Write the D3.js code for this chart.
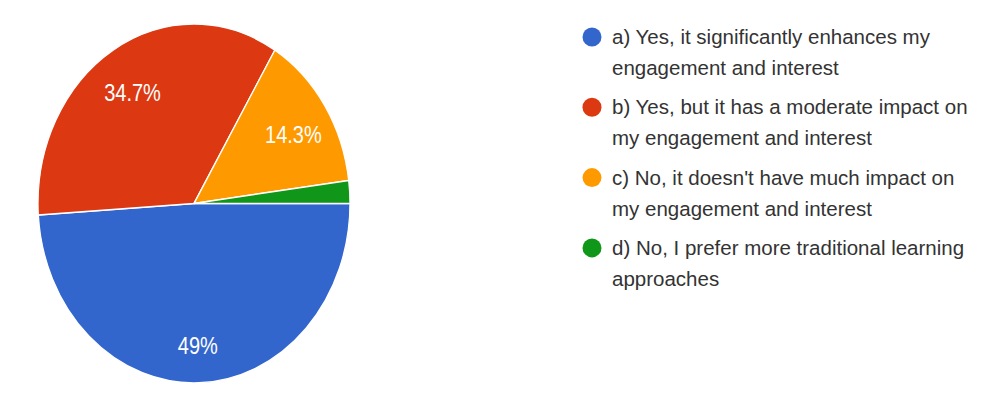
<!DOCTYPE html>
<html>
<head>
<meta charset="utf-8">
<script src="https://cdn.jsdelivr.net/npm/d3@7"></script>
<style>
  html, body { margin: 0; padding: 0; background: #fff; }
  svg { display: block; }
</style>
</head>
<body>
<svg id="chart" width="995" height="394"></svg>
<script>
// Survey responses (49 in total)
const categories = [
  "a) Yes, it significantly enhances my engagement and interest",
  "b) Yes, but it has a moderate impact on my engagement and interest",
  "c) No, it doesn't have much impact on my engagement and interest",
  "d) No, I prefer more traditional learning approaches"
];
const counts = [24, 17, 7, 1];
const percentLabels = ["49%", "34.7%", "14.3%", "2%"];
// Legend entries wrapped onto two lines each
const legendLines = [
  ["a) Yes, it significantly enhances my", "engagement and interest"],
  ["b) Yes, but it has a moderate impact on", "my engagement and interest"],
  ["c) No, it doesn't have much impact on", "my engagement and interest"],
  ["d) No, I prefer more traditional learning", "approaches"]
];
const colors = ["#3366cc", "#dc3912", "#ff9900", "#109618"];

const svg = d3.select("#chart");

// Pie geometry: drawn as a circle, then stretched vertically into an ellipse
const cx = 194, cy = 203.5, r = 156, stretch = 1.15;

const color = d3.scaleOrdinal().domain(d3.range(categories.length)).range(colors);

const pie = d3.pie()
  .value(d => d)
  .sort(null)
  .startAngle(Math.PI / 2)
  .endAngle(Math.PI / 2 + 2 * Math.PI);

const arcs = pie(counts);
const arc = d3.arc().innerRadius(0).outerRadius(r);
const labelArc = d3.arc().innerRadius(r * 0.76).outerRadius(r * 0.76);

const g = svg.append("g")
  .attr("transform", `translate(${cx},${cy}) scale(1,${stretch})`);

g.selectAll("path.slice")
  .data(arcs)
  .join("path")
  .attr("class", "slice")
  .attr("d", arc)
  .attr("fill", (d, i) => color(i))
  .attr("stroke", "#fff")
  .attr("stroke-width", 1.3)
  .attr("stroke-linejoin", "round");

// Percentage labels for slices large enough to hold them
g.selectAll("text.pct")
  .data(arcs.filter(d => (d.endAngle - d.startAngle) > 0.3))
  .join("text")
  .attr("class", "pct")
  .attr("transform", d => {
    const [x, y] = labelArc.centroid(d);
    return `translate(${x},${y + 5})`;
  })
  .attr("text-anchor", "middle")
  .attr("dominant-baseline", "central")
  .attr("fill", "#fff")
  .attr("font-family", "Liberation Sans, Arial, sans-serif")
  .attr("font-size", 20)
  .text(d => percentLabels[d.index]);

// Legend
const legendX = 592, legendTop = 44, itemGap = 70.3, lineGap = 31;
const legend = svg.append("g").attr("font-family", "Liberation Sans, Arial, sans-serif");

const items = legend.selectAll("g.item")
  .data(legendLines)
  .join("g")
  .attr("class", "item")
  .attr("transform", (d, i) => `translate(${legendX},${legendTop + i * itemGap})`);

items.append("circle")
  .attr("cx", 0)
  .attr("cy", -7)
  .attr("r", 9.5)
  .attr("fill", (d, i) => color(i));

items.selectAll("text")
  .data(d => d)
  .join("text")
  .attr("x", 20)
  .attr("y", (d, j) => j * lineGap)
  .attr("fill", "#333")
  .attr("font-size", 20.5)
  .text(d => d);
</script>
</body>
</html>
